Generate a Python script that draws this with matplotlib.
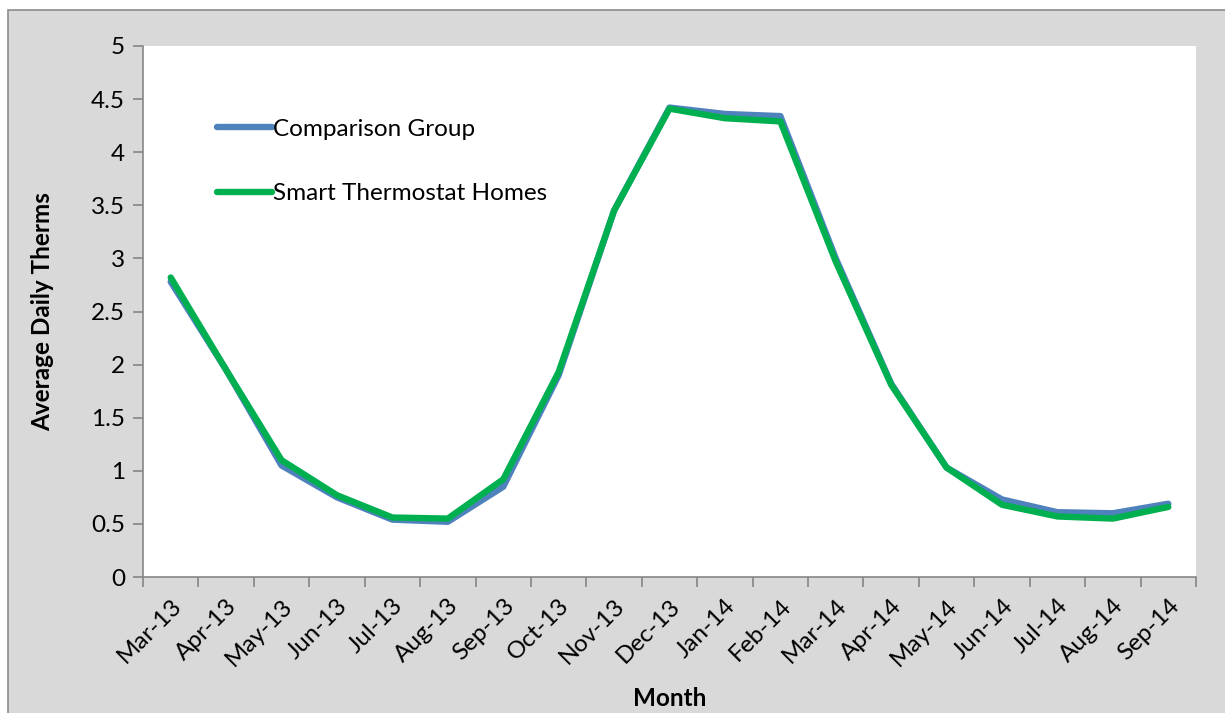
import matplotlib.pyplot as plt
from matplotlib.patches import Rectangle

plt.rcParams['font.family'] = ['Lato', 'DejaVu Sans']

# monthly average daily therms
months = ["Mar-13", "Apr-13", "May-13", "Jun-13", "Jul-13", "Aug-13", "Sep-13",
          "Oct-13", "Nov-13", "Dec-13", "Jan-14", "Feb-14", "Mar-14", "Apr-14",
          "May-14", "Jun-14", "Jul-14", "Aug-14", "Sep-14"]
comparison = [2.78, 1.95, 1.05, 0.75, 0.54, 0.52, 0.85, 1.90, 3.45, 4.42,
              4.36, 4.34, 3.00, 1.82, 1.03, 0.73, 0.61, 0.60, 0.69]
smart = [2.82, 1.95, 1.10, 0.77, 0.56, 0.55, 0.92, 1.93, 3.45, 4.41,
         4.32, 4.29, 2.97, 1.81, 1.03, 0.68, 0.57, 0.55, 0.66]
yticks = [0, 0.5, 1, 1.5, 2, 2.5, 3, 3.5, 4, 4.5, 5]
ytick_labels = ["0", "0.5", "1", "1.5", "2", "2.5", "3", "3.5", "4", "4.5", "5"]

FS = 17.5
W, H = 1225, 713
fig = plt.figure(figsize=(W / 100, H / 100), dpi=100, facecolor="white")

# gray chart area with thin border (top/left visible)
fig.patches.append(Rectangle((8 / W, -0.1), 1.2, 1 - 10 / H + 0.1,
                             transform=fig.transFigure, facecolor="#d9d9d9",
                             edgecolor="#8c8c8c", linewidth=1.2, zorder=-10))

ax = fig.add_axes([143 / W, 1 - 577 / H, (1196 - 143) / W, (577 - 46) / H])
ax.set_facecolor("white")

x = list(range(len(months)))
ax.plot(x, comparison, color="#4f81bd", linewidth=4.6, label="Comparison Group",
        solid_capstyle="round", solid_joinstyle="round")
ax.plot(x, smart, color="#00b050", linewidth=4.6, label="Smart Thermostat Homes",
        solid_capstyle="round", solid_joinstyle="round")

ax.set_xlim(-0.5, len(months) - 0.5)
ax.set_ylim(0, 5)

ax.set_yticks(yticks)
ax.set_yticklabels(ytick_labels, fontsize=FS)
ax.tick_params(axis="y", length=7, width=1.2, color="#868686", pad=6)

ax.set_xticks(x)
ax.set_xticklabels(months, fontsize=FS, rotation=45, ha="right", va="top",
                   rotation_mode="anchor")
ax.tick_params(axis="x", which="major", length=0, pad=13)
ax.set_xticks([i - 0.5 for i in range(len(months) + 1)], minor=True)
ax.tick_params(axis="x", which="minor", length=7, width=1.2, color="#868686")

for side in ["top", "right"]:
    ax.spines[side].set_visible(False)
for side in ["left", "bottom"]:
    ax.spines[side].set_color("#868686")
    ax.spines[side].set_linewidth(1.2)

ax.set_ylabel("Average Daily Therms", fontsize=FS, fontweight="bold")
ax.yaxis.set_label_coords(-0.084, 0.5)
ax.set_xlabel("Month", fontsize=FS, fontweight="bold")
ax.xaxis.label.set_va("center")
ax.xaxis.set_label_coords(0.5, -0.228)

ax.legend(loc="upper left", bbox_to_anchor=(0.059, 0.886), frameon=False,
          fontsize=FS, handlelength=2.25, handletextpad=0.05, labelspacing=1.8,
          borderpad=0)

fig.savefig("out.png", dpi=100)
